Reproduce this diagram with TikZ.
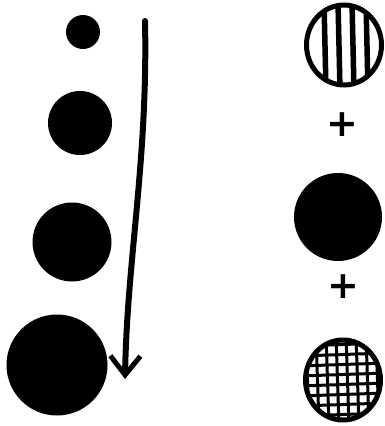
\documentclass[tikz,border=0pt]{standalone}
\usepackage{fontspec}
\usepackage{tikz}
\usetikzlibrary{arrows.meta, positioning, shapes.geometric}
\newfontfamily\plusfont{DejaVu Sans}

\tikzset{
  dot/.style={circle, fill=black, inner sep=0pt, minimum size=#1},
  ring/.style={ellipse, draw=black, line width=5pt, inner sep=0pt,
               minimum width=75pt, minimum height=80pt},
  hatch/.style={line width=5.5pt},
  plus/.style={font=\plusfont\fontsize{38}{38}\selectfont\bfseries}
}

\begin{document}
\begin{tikzpicture}[x=1pt, y=-1pt]
  \useasboundingbox (0,0) rectangle (385,426);

  % growing dots
  \node[dot=34pt](d1) at (83,32) {};
  \node[dot=64pt](d2) at (80,123) {};
  \node[dot=79pt](d3) at (72,242) {};
  \node[dot=101pt](d4) at (57,365) {};

  % arrow
  \coordinate (top) at (145,21);
  \coordinate (tip) at (125,379);
  \draw[line width=6pt, line cap=round,
        -{Straight Barb[length=19pt, width=30pt, line width=5pt]}]
        (top) .. controls (148,160) and (127,260) .. (tip);

  % striped circle
  \begin{scope}
    \clip (344,45) ellipse (36 and 38);
    \foreach \x in {324,338,352,366}
      \draw[hatch] (\x,2) -- (\x+2,90);
  \end{scope}
  \node[ring](stripe) at (344,45) {};

  \node[plus](p1) at (342,125) {+};

  % solid circle
  \node[dot=88pt](solid) at (338,217) {};

  \node[plus](p2) at (343,287) {+};

  % grid circle
  \begin{scope}
    \clip (343,380) ellipse (36 and 38);
    \foreach \x in {306,316,...,386}
      \draw[line width=3pt] (\x,335) -- (\x+3,425);
    \foreach \y in {346,356,...,416}
      \draw[line width=3pt] (300,\y) -- (386,\y-3);
  \end{scope}
  \node[ring](grid) at (343,380) {};
\end{tikzpicture}
\end{document}
